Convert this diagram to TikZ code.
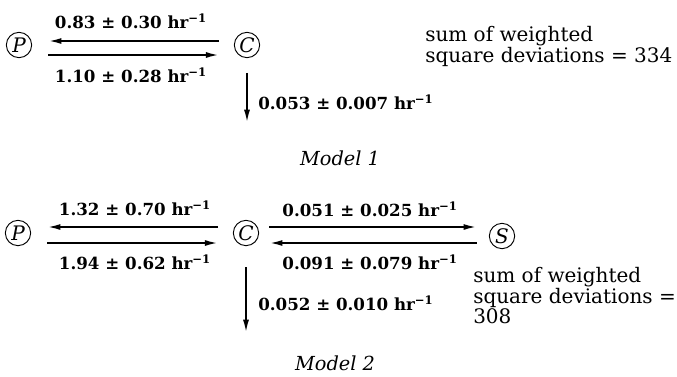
\documentclass[tikz,border=0pt]{standalone}
\usepackage{fontspec}
\setmainfont{DejaVu Serif}
\usetikzlibrary{arrows.meta, positioning, calc}

\newcommand{\perhr}{hr\textsuperscript{−1}}

\begin{document}
\begin{tikzpicture}[
    x=0.75pt, y=-0.75pt,
    pool/.style={
        circle, draw, line width=0.7pt, minimum size=19pt, inner sep=0pt, font=\fontsize{15}{15}\selectfont\itshape
    },
    rate/.style={
        font=\fontsize{12.5}{14}\selectfont\bfseries, inner sep=0pt
    },
    flux/.style={
        line width=1.5pt, -{Latex[length=10pt, width=4.5pt]}
    },
    note/.style={
        font=\fontsize{15}{14}\selectfont, align=left, inner sep=0pt, anchor=north west
    },
    caption/.style={
        font=\fontsize{14.5}{14}\selectfont\itshape, inner sep=0pt
    }
]
    \useasboundingbox (0,0) rectangle (677,376);

    % --- Model 1 ---
    \node [pool] (P1) at (19,45) {P};
    \node [pool] (C1) at (247,45) {C};
    \coordinate (out1) at (247,123);

    \path [draw, flux, shorten <=11pt, shorten >=12pt] ([yshift=3pt]C1.west) -- ([yshift=3pt]C1.west -| P1.east);
    \path [draw, flux, shorten <=12pt, shorten >=11pt] ([yshift=-7.5pt]P1.east) -- ([yshift=-7.5pt]P1.east -| C1.west);
    \path [draw, flux, shorten <=11pt] (C1) -- (out1);

    \node [rate] (r1pc) at (131,21) {0.83 ± 0.30 \perhr};
    \node [rate] (r1cp) at (131,75) {1.10 ± 0.28 \perhr};
    \node [rate, anchor=west] (r1out) at (258,102) {0.053 ± 0.007 \perhr};
    \node [note] (ssd1) at (425,26) {sum of weighted\\square deviations = 334};
    \node [caption] (model1) at (340,158) {Model 1};

    % --- Model 2 ---
    \node [pool] (P2) at (18,233) {P};
    \node [pool] (C2) at (246,233) {C};
    \node [pool] (S2) at (502,236) {S};
    \coordinate (out2) at (246,333);

    \path [draw, flux, shorten <=11pt, shorten >=12pt] ([yshift=4.5pt]C2.west) -- ([yshift=4.5pt]C2.west -| P2.east);
    \path [draw, flux, shorten <=12pt, shorten >=11pt] ([yshift=-7.5pt]P2.east) -- ([yshift=-7.5pt]P2.east -| C2.west);
    \path [draw, flux, shorten <=7.5pt, shorten >=9pt] ([yshift=4.5pt]C2.east) -- ([yshift=4.5pt]C2.east -| S2.west);
    \path [draw, flux, shorten <=9pt, shorten >=7.5pt] ([yshift=-7.5pt]C2.east -| S2.west) -- ([yshift=-7.5pt]C2.east);
    \path [draw, flux, shorten <=16pt] (C2) -- (out2);

    \node [rate] (r2pc) at (135,208) {1.32 ± 0.70 \perhr};
    \node [rate] (r2cp) at (135,262) {1.94 ± 0.62 \perhr};
    \node [rate] (r2cs) at (370,209) {0.051 ± 0.025 \perhr};
    \node [rate] (r2sc) at (370,262) {0.091 ± 0.079 \perhr};
    \node [rate, anchor=west] (r2out) at (258,303) {0.052 ± 0.010 \perhr};
    \node [note] (ssd2) at (473,267) {sum of weighted\\square deviations =\\308};
    \node [caption] (model2) at (335,363) {Model 2};

\end{tikzpicture}
\end{document}
